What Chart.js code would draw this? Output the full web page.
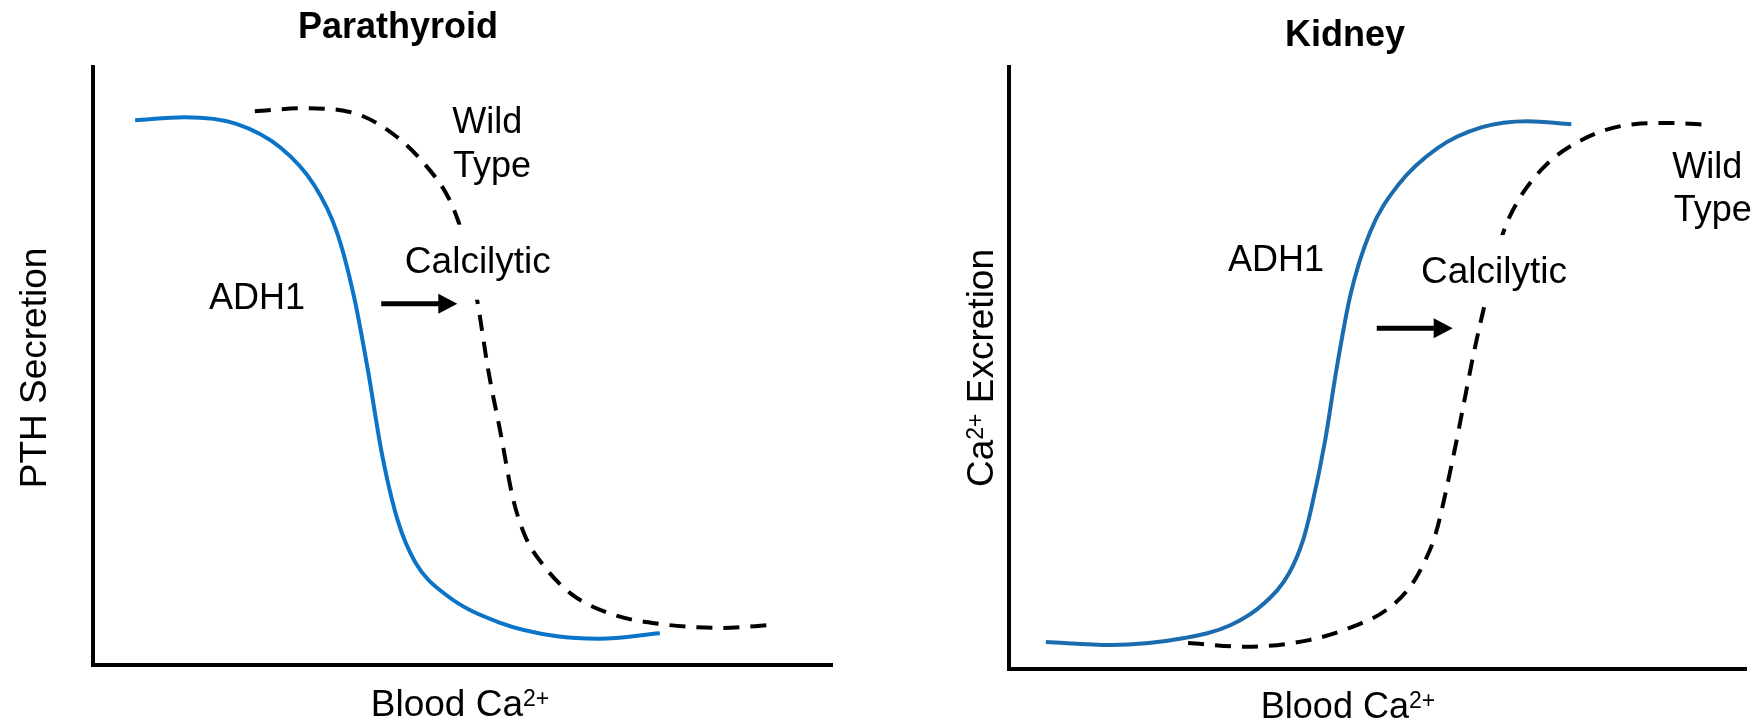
<!DOCTYPE html>
<html>
<head>
<meta charset="utf-8">
<title>Parathyroid / Kidney</title>
<script src="https://cdn.jsdelivr.net/npm/chart.js@4.4.1/dist/chart.umd.min.js"></script>
<style>
  body { margin: 0; background: #fff; }
  .panel { position: absolute; top: 0; width: 876px; height: 724px; }
  #izq { left: 0; }
  #der { left: 876px; }
</style>
</head>
<body>
<div class="panel" id="izq"><canvas id="graficoPTH"></canvas></div>
<div class="panel" id="der"><canvas id="graficoRinon"></canvas></div>
<script>
/* DATOS (unidades arbitrarias, 0-100 en ambos ejes) */

// Paratiroides: secreción de PTH vs Ca2+ en sangre
const pthAdh1X = [5.7, 12.4, 19.4, 25.4, 29.9, 33.0, 35.3, 37.2, 39.1, 41.2, 43.6, 47.8, 55.0, 62.8, 68.5, 76.7];
const pthAdh1Y = [91.1, 91.6, 90.5, 86.5, 80.3, 72.4, 61.7, 49.3, 35.3, 24.3, 17.2, 11.7, 7.1, 4.8, 4.4, 5.3];
const pthWildX = [21.9, 28.4, 35.3, 40.6, 45.2, 48.2, 49.7, 51.0, 52.0, 53.5, 55.2, 56.8, 58.5, 60.8, 64.7, 70.2, 76.5, 85.0, 91.9];
const pthWildY = [92.6, 93.1, 92.3, 88.8, 83.3, 77.9, 73.2, 67.0, 60.9, 49.2, 38.5, 28.0, 21.5, 16.9, 11.9, 8.5, 6.9, 6.2, 6.7];

// Riñón: excreción de Ca2+ vs Ca2+ en sangre
const rinonAdh1X = [5.0, 13.8, 23.6, 30.1, 34.7, 38.0, 39.9, 41.0, 42.9, 44.4, 46.3, 49.0, 52.8, 58.1, 64.2, 70.3, 76.3];
const rinonAdh1Y = [4.5, 4.0, 5.1, 7.3, 11.0, 15.9, 21.4, 26.6, 38.0, 49.5, 62.0, 72.6, 80.4, 86.5, 90.0, 91.0, 90.5];
const rinonWildX = [24.3, 32.2, 40.7, 47.2, 51.2, 54.4, 56.3, 57.9, 60.1, 61.6, 63.1, 64.6, 66.9, 68.8, 72.6, 77.9, 84.8, 90.1, 94.6];
const rinonWildY = [4.3, 3.7, 4.8, 7.3, 9.8, 13.6, 17.6, 22.5, 34.2, 43.4, 52.7, 60.8, 71.9, 77.2, 83.4, 88.0, 90.5, 90.7, 90.4];

// Textos
const titulos = ['Parathyroid', 'Kidney'];
const ejeYTextos = ['PTH Secretion', 'Excretion'];
const serieTextos = ['ADH1', 'Wild', 'Type', 'Calcilytic'];

const FUENTE = "Arial, 'Liberation Sans', sans-serif";

function puntos(xs, ys) {
  return xs.map((x, i) => ({ x: x, y: ys[i] }));
}

// texto con superíndice ("Ca2+"), opcionalmente rotado
function textoRico(ctx, partes, x, y, rot) {
  ctx.save();
  ctx.translate(x, y);
  ctx.rotate(rot);
  ctx.textAlign = 'left';
  ctx.textBaseline = 'alphabetic';
  let total = 0;
  partes.forEach(p => {
    ctx.font = `${p.size}px ${FUENTE}`;
    p.w = ctx.measureText(p.text).width;
    total += p.w;
  });
  let cx = -total / 2;
  partes.forEach(p => {
    ctx.font = `${p.size}px ${FUENTE}`;
    ctx.fillText(p.text, cx, -(p.rise || 0));
    cx += p.w;
  });
  ctx.restore();
}

// plugin de anotaciones: título, ejes, etiquetas y flecha
function anotaciones(cfg) {
  return {
    id: 'anotaciones',
    afterDatasetsDraw(chart) {
      const { ctx, scales: { x, y } } = chart;
      ctx.save();
      ctx.fillStyle = '#000';
      ctx.textBaseline = 'alphabetic';

      ctx.font = `bold 36px ${FUENTE}`;
      ctx.textAlign = 'center';
      ctx.fillText(cfg.titulo.text, cfg.titulo.x, cfg.titulo.y);

      textoRico(ctx, cfg.ejeX.partes, cfg.ejeX.x, cfg.ejeX.y, 0);
      textoRico(ctx, cfg.ejeY.partes, cfg.ejeY.x, cfg.ejeY.y, -Math.PI / 2);

      ctx.textAlign = 'left';
      cfg.etiquetas.forEach(l => {
        const px = x.getPixelForValue(l.x);
        const py = y.getPixelForValue(l.y);
        ctx.font = `${l.size || 36}px ${FUENTE}`;
        if (l.caja) {
          const w = ctx.measureText(l.text).width;
          ctx.fillStyle = '#fff';
          ctx.fillRect(px - 6, py - l.caja[0], w + 12, l.caja[0] + l.caja[1]);
          ctx.fillStyle = '#000';
        }
        ctx.fillText(l.text, px, py);
      });

      // flecha
      const a = cfg.flecha;
      const x1 = x.getPixelForValue(a.x1);
      const x2 = x.getPixelForValue(a.x2);
      const ya = y.getPixelForValue(a.y);
      ctx.strokeStyle = '#000';
      ctx.lineWidth = 5;
      ctx.beginPath();
      ctx.moveTo(x1, ya);
      ctx.lineTo(x2 - 15, ya);
      ctx.stroke();
      ctx.beginPath();
      ctx.moveTo(x2 - 19, ya - 10);
      ctx.lineTo(x2, ya);
      ctx.lineTo(x2 - 19, ya + 10);
      ctx.closePath();
      ctx.fill();
      ctx.restore();
    }
  };
}

function ejeOculto() {
  return {
    type: 'linear', min: 0, max: 100,
    grid: { display: false, drawTicks: false },
    ticks: { display: false },
    border: { color: '#000', width: 4 }
  };
}

function opciones(padding) {
  return {
    responsive: true,
    maintainAspectRatio: false,
    animation: false,
    layout: { padding: padding },
    plugins: { legend: { display: false }, tooltip: { enabled: false } },
    elements: { point: { radius: 0 }, line: { cubicInterpolationMode: 'monotone' } },
    scales: { x: ejeOculto(), y: ejeOculto() }
  };
}

new Chart(document.getElementById('graficoPTH'), {
  type: 'line',
  data: {
    datasets: [
      { label: 'ADH1', data: puntos(pthAdh1X, pthAdh1Y), borderColor: '#0a74c8', borderWidth: 4 },
      { label: 'Wild Type', data: puntos(pthWildX, pthWildY), borderColor: '#000', borderWidth: 4, borderDash: [16, 11] }
    ]
  },
  options: opciones({ left: 93, top: 67, right: 44, bottom: 59 }),
  plugins: [anotaciones({
    titulo: { text: titulos[0], x: 398, y: 38 },
    ejeX: { x: 460, y: 716, partes: [{ text: 'Blood Ca', size: 37 }, { text: '2+', size: 23, rise: 10 }] },
    ejeY: { x: 46, y: 368, partes: [{ text: ejeYTextos[0], size: 37 }] },
    etiquetas: [
      { text: serieTextos[1], x: 48.6, y: 89.0 },
      { text: serieTextos[2], x: 48.7, y: 81.6 },
      { text: serieTextos[3], x: 42.2, y: 65.6, caja: [48, 27], size: 37 },
      { text: serieTextos[0], x: 15.7, y: 59.5 }
    ],
    flecha: { x1: 39.0, x2: 49.3, y: 60.4 }
  })]
});

new Chart(document.getElementById('graficoRinon'), {
  type: 'line',
  data: {
    datasets: [
      { label: 'ADH1', data: puntos(rinonAdh1X, rinonAdh1Y), borderColor: '#1b6cae', borderWidth: 4 },
      { label: 'Wild Type', data: puntos(rinonWildX, rinonWildY), borderColor: '#000', borderWidth: 4, borderDash: [16, 11] }
    ]
  },
  options: opciones({ left: 133, top: 67, right: 6, bottom: 55 }),
  plugins: [anotaciones({
    titulo: { text: titulos[1], x: 469, y: 46 },
    ejeX: { x: 472, y: 718, partes: [{ text: 'Blood Ca', size: 36 }, { text: '2+', size: 23, rise: 10 }] },
    ejeY: { x: 117, y: 368, partes: [{ text: 'Ca', size: 37 }, { text: '2+', size: 23, rise: 10 }, { text: ' ' + ejeYTextos[1], size: 37 }] },
    etiquetas: [
      { text: serieTextos[1], x: 90.0, y: 81.6 },
      { text: serieTextos[2], x: 90.2, y: 74.4 },
      { text: serieTextos[3], x: 55.9, y: 64.1, caja: [48, 20], size: 37 },
      { text: serieTextos[0], x: 29.7, y: 66.1 }
    ],
    flecha: { x1: 49.9, x2: 60.2, y: 56.6 }
  })]
});
</script>
</body>
</html>
